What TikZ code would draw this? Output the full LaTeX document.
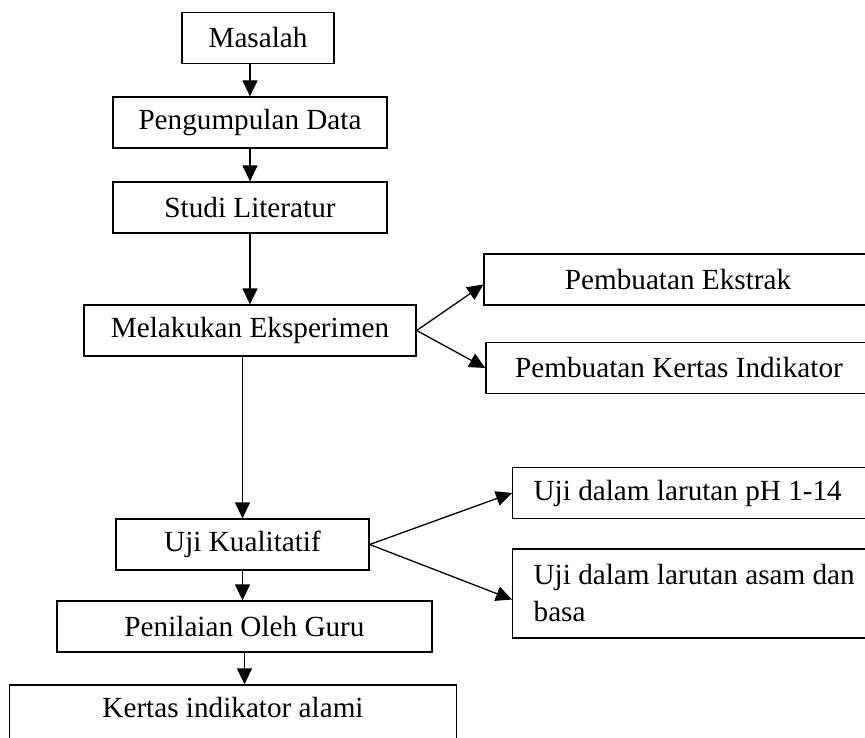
\documentclass[tikz,border=0pt]{standalone}
\usepackage{fontspec}
\setmainfont{Liberation Serif}
\usetikzlibrary{arrows.meta}

\begin{document}
\begin{tikzpicture}[x=0.5pt,y=-0.5pt,
  font=\fontsize{14.6}{18.5}\selectfont,
  box/.style={draw, rectangle, line width=0.65pt, minimum height=25.5pt, inner sep=0pt},
  side/.style={box, align=flush left, inner xsep=10.5pt, text width=175pt, anchor=west},
  arr/.style={line width=0.65pt, -{Triangle[length=8pt,width=7.5pt]}}]
\useasboundingbox (0,0) rectangle (865,737);
\clip (0,0) rectangle (865,737);

\node [box, minimum width=76pt] (masalah) at (258,38) {Masalah};
\node [box, minimum width=137pt] (data) at (250,122.5) {Pengumpulan Data};
\node [box, minimum width=137pt] (studi) at (250,207.5) {Studi Literatur};
\node [box, minimum width=166pt] (eksp) at (250,330.5) {Melakukan Eksperimen};
\node [box, minimum width=194pt] (ekstrak) at (678,279.5) {Pembuatan Ekstrak};
\node [box, minimum width=193pt] (kertas) at (679,368) {Pembuatan Kertas Indikator};
\node [box, minimum width=126.5pt] (uji) at (242.5,544.5) {Uji Kualitatif};
\node [side] (ph) at (512,493) {Uji dalam larutan pH 1-14};
\node [side, minimum height=44.5pt] (asam) at (512,593.5) {Uji dalam larutan asam dan\\basa};
\node [box, minimum width=187.5pt] (nilai) at (244.5,626.5) {Penilaian Oleh Guru};
\node [box, minimum width=223.5pt, minimum height=28pt, text depth=6pt] (hasil) at (233,713) {Kertas indikator alami};

\path [arr]
(masalah.south -| data.north) edge (data.north)
(data.south) edge (studi.north)
(studi.south) edge (eksp.north)
(eksp.south -| uji.north) edge (uji.north)
(eksp.east) edge ([yshift=-2.5pt]ekstrak.west)
(eksp.east) edge (kertas.west)
(uji.south) edge (nilai.north -| uji.south)
(uji.east) edge (ph.west)
(uji.east) edge ([yshift=-3pt]asam.west)
(nilai.south) edge (nilai.south |- hasil.north);
\end{tikzpicture}
\end{document}
